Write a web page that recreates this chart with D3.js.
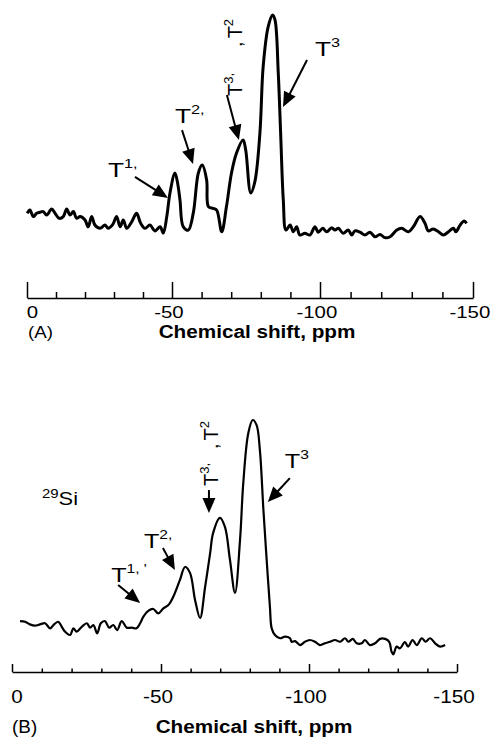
<!DOCTYPE html>
<html>
<head>
<meta charset="utf-8">
<script src="https://cdn.jsdelivr.net/npm/d3@7"></script>
<style>
body { margin: 0; background: #fff; }
text { font-family: "Liberation Sans", Arial, sans-serif; fill: #000; }
</style>
</head>
<body>
<div id="chart"></div>
<script>
// spectrum (A): chemical shift (ppm) and intensity (arb. units)
var shiftA = [-0.1,-1.0,-2.2,-3.3,-4.5,-5.6,-6.8,-8.5,-9.7,-11.1,-12.5,-13.7,-14.8,-16.0,-17.1,-18.3,-20.0,-21.1,-22.3,-23.4,
  -25.2,-26.9,-28.0,-29.6,-30.9,-32.1,-33.2,-34.4,-36.1,-37.8,-39.2,-40.7,-42.4,-44.1,-45.9,-47.0,-48.2,-49.3,-51.0,-52.0,
  -52.7,-53.8,-55.5,-57.2,-58.9,-60.2,-61.7,-62.3,-63.9,-65.1,-66.8,-68.4,-70.1,-71.8,-74.0,-74.9,-76.6,-78.0,-79.7,-80.8,
  -82.5,-84.0,-84.8,-85.9,-86.7,-87.6,-88.5,-89.9,-91.0,-92.1,-93.2,-94.9,-96.6,-98.3,-99.4,-100.9,-102.2,-103.8,-104.9,-106.0,
  -107.6,-109.2,-110.4,-111.4,-113.1,-114.7,-116.3,-118.0,-119.6,-121.2,-122.9,-125.1,-126.7,-128.9,-130.5,-132.7,-134.3,-135.4,-137.0,-138.7,
  -140.3,-142.0,-143.6,-144.4,-145.8,-147.1,-147.9];
var intensityA = [8.6,10.1,7.1,8.6,9.1,9.4,7.8,10.6,8.6,6.3,7.1,10.6,7.8,9.4,6.3,7.1,5.5,2.4,7.1,3.2,
  1.7,3.2,1.7,3.5,7.1,2.4,5.5,1.7,4.7,8.6,4.0,1.7,3.2,0.5,2.4,-0.5,7.1,18.0,27.2,21.7,
  14.7,2.4,0.9,8.8,27.2,30.9,24.0,11.7,10.9,10.1,0.1,11.7,27.2,36.4,42.4,37.8,18.0,23.2,45.6,76.2,
  94.6,100,97.7,73.3,45.6,14.7,0.9,3.2,0.1,2.4,-1.4,-0.6,-1.4,2.4,-0.1,1.7,0.1,2.0,0.9,1.7,
  -0.6,0.9,-1.4,0.5,-0.1,-1.4,-0.1,-2.2,-1.1,-2.6,-2.2,0.9,1.7,0.1,2.4,7.1,4.0,0.5,1.4,0.1,
  -1.4,0.1,1.7,0.1,3.2,5.1,4.0];

// spectrum (B)
var shiftB = [-2.7,-4.4,-6.0,-7.7,-9.4,-11.1,-12.8,-13.9,-15.5,-16.7,-17.8,-19.5,-20.6,-21.7,-23.4,-25.1,-26.2,-27.3,-28.6,-29.8,
  -31.2,-32.6,-34.0,-35.3,-36.8,-38.5,-40.2,-41.8,-43.0,-44.1,-45.7,-47.4,-49.1,-50.8,-52.5,-54.1,-56.4,-58.1,-59.8,-61.5,
  -63.2,-64.9,-66.6,-67.6,-69.9,-71.6,-73.3,-75.0,-76.7,-77.8,-79.5,-81.0,-82.3,-83.4,-84.6,-85.7,-86.8,-87.4,-88.5,
  -90.2,-91.9,-93.6,-94.1,-95.3,-97.0,-98.6,-100.3,-102.0,-103.7,-105.4,-107.1,-108.8,-110.5,-112.2,-113.3,-114.8,-116.1,-117.8,-118.9,
  -120.6,-122.3,-124.0,-125.7,-127.1,-127.9,-128.5,-129.6,-130.7,-132.4,-133.5,-135.0,-136.4,-138.1,-139.4,-140.9,-142.6,-144.3,-146.0];
var intensityB = [8.6,8.3,7.1,6.5,7.1,7.6,5.3,6.8,8.3,6.0,3.8,2.3,5.3,3.8,6.0,7.6,5.6,6.8,3.0,7.6,
  8.6,5.6,6.8,4.5,8.6,5.6,5.6,5.3,7.6,10.6,13.2,14.1,12.1,14.4,15.9,19.5,27.3,33.2,30.5,18.2,
  10.0,24.1,39.5,48.6,55.5,51.4,36.4,21.4,45.5,71.4,94.1,100,97.7,86.4,59.1,36.4,15.0,5.3,2.3,
  0.8,1.5,0.8,-0.8,-0.5,-2.3,-0.8,0,-0.8,-2.3,-1.5,-0.8,0,-0.8,0.8,-0.8,0.5,-1.5,-1.5,0,
  -2.3,-1.5,0.5,0.5,-0.8,-5.3,-6.5,-3.0,-3.8,-1.0,-3.0,0,-2.3,0.8,-0.8,0.8,-1.5,-3.0,-2.3];

var majorTicks = [0, -50, -100, -150];
var minorTicks = [-10, -20, -30, -40, -60, -70, -80, -90, -110, -120, -130, -140];
var axisTitle = "Chemical shift, ppm";
var panelNames = ["(A)", "(B)"];

var width = 496, height = 740;

var svg = d3.select("#chart")
  .append("svg")
  .attr("width", width)
  .attr("height", height);

// the printed figure is stretched sideways, so text is widened too
function wideText(parent, x, y, sx, size) {
  return parent.append("g")
    .attr("transform", "translate(" + x + "," + y + ") scale(" + sx + ",1)")
    .append("text")
    .style("font-size", size + "px");
}

function arrow(g, tip, tail, len, wid) {
  var dx = tip[0] - tail[0], dy = tip[1] - tail[1];
  var d = Math.sqrt(dx * dx + dy * dy);
  var ux = dx / d, uy = dy / d;
  var bx = tip[0] - ux * len, by = tip[1] - uy * len;
  g.append("line")
    .attr("x1", tail[0]).attr("y1", tail[1])
    .attr("x2", bx + ux * 2).attr("y2", by + uy * 2)
    .attr("stroke", "#000").attr("stroke-width", 2);
  g.append("path")
    .attr("d", "M" + tip[0] + "," + tip[1] +
      "L" + (bx - uy * wid / 2) + "," + (by + ux * wid / 2) +
      "L" + (bx + uy * wid / 2) + "," + (by - ux * wid / 2) + "Z")
    .attr("fill", "#000");
}

function drawPanel(p) {
  var g = svg.append("g");

  var x = d3.scaleLinear()
    .domain(majorTicks)
    .range(p.xRange);
  var y = d3.scaleLinear()
    .domain([0, 100])
    .range(p.yRange);

  var pts = p.shift.map(function(s, i) { return {s: s, v: p.intensity[i]}; });

  g.append("path")
    .datum(pts)
    .attr("fill", "none")
    .attr("stroke", "#000")
    .attr("stroke-width", p.lineWidth)
    .attr("stroke-linejoin", "round")
    .attr("d", d3.line()
      .curve(d3.curveCatmullRom.alpha(0.5))
      .x(function(d) { return x(d.s); })
      .y(function(d) { return y(d.v); }));

  // major ticks with labels, pointing up from the baseline
  var ax = g.append("g")
    .attr("transform", "translate(0," + p.axisY + ")")
    .call(d3.axisBottom(x)
      .tickValues(majorTicks)
      .tickSize(-p.majorSize)
      .tickSizeOuter(0)
      .tickPadding(p.tickPad)
      .tickFormat(function(d) { return String(d); }));
  ax.select(".domain").attr("stroke-width", 1.5);
  ax.selectAll(".tick line").attr("stroke-width", 1.5);
  ax.selectAll(".tick text")
    .style("font-family", "'Liberation Sans', Arial, sans-serif")
    .style("font-size", p.tickFont + "px")
    .attr("fill", "#000")
    .attr("transform", "scale(" + p.textStretch + ",1)")
    .attr("x", function(d) { return d === 0 ? 4 : -3; });

  g.append("g")
    .attr("transform", "translate(0," + p.axisY + ")")
    .call(d3.axisBottom(x)
      .tickValues(minorTicks)
      .tickSize(-p.minorSize)
      .tickSizeOuter(0)
      .tickFormat(""))
    .call(function(a) { a.select(".domain").remove(); })
    .selectAll(".tick line").attr("stroke-width", 1.5);

  wideText(g, p.titleX, p.titleY, 1.12, 18.5)
    .attr("text-anchor", "middle")
    .style("font-weight", "bold")
    .text(axisTitle);

  wideText(g, p.nameX, p.titleY, p.nameStretch, p.nameFont)
    .text(p.name);

  // peak labels with arrows
  p.notes.forEach(function(n) {
    var tip = [x(n.at[0]), y(n.at[1])];
    arrow(g, tip, [tip[0] + n.tail[0], tip[1] + n.tail[1]], p.headLen, p.headWid);
    var t;
    if (n.rotated) {
      t = g.append("g")
        .attr("transform", "translate(" + (tip[0] + n.label[0]) + "," + (tip[1] + n.label[1]) + ") rotate(-90)")
        .append("text")
        .style("font-size", "20px");
      t.append("tspan").text("T");
      t.append("tspan").attr("dy", -9).style("font-size", "13px").text("3,");
      t.append("tspan").attr("dy", 9).attr("dx", n.gap).text(",");
      t.append("tspan").attr("dx", 3).text("T");
      t.append("tspan").attr("dy", -9).style("font-size", "13px").text("2");
    } else {
      t = wideText(g, tip[0] + n.label[0], tip[1] + n.label[1], p.labelStretch, 21);
      t.append("tspan").text("T");
      t.append("tspan").attr("dy", -9).style("font-size", "13px").text(n.sup);
    }
  });

  return {x: x, y: y, g: g};
}

drawPanel({
  shift: shiftA, intensity: intensityA,
  xRange: [27, 172, 320, 473], yRange: [232, 15],
  lineWidth: 3,
  axisY: 298, majorSize: 16, minorSize: 6, tickPad: 8, tickFont: 17, textStretch: 1.2,
  titleX: 257, titleY: 338, name: panelNames[0], nameX: 28, nameFont: 17, nameStretch: 1.1,
  headLen: 15, headWid: 13, labelStretch: 1.25,
  notes: [
    {at: [-48.6, 15.7], tail: [-33, -21], label: [-60, -21], sup: "1,"},
    {at: [-57.1, 31.3], tail: [-11, -34], label: [-18, -41], sup: "2,"},
    {at: [-72.6, 42.4], tail: [-12, -45], label: [3, -44], rotated: true, gap: 26},
    {at: [-87.5, 57.6], tail: [24, -47], label: [32, -51], sup: "3"}
  ]
});

var pb = drawPanel({
  shift: shiftB, intensity: intensityB,
  xRange: [12, 161, 309, 457], yRange: [640, 420],
  lineWidth: 2.2,
  axisY: 672, majorSize: 8, minorSize: 3.5, tickPad: 18, tickFont: 18, textStretch: 1.15,
  titleX: 254, titleY: 733, name: panelNames[1], nameX: 12, nameFont: 18, nameStretch: 1.05,
  headLen: 15, headWid: 13, labelStretch: 1.2,
  notes: [
    {at: [-43.0, 16.8], tail: [-22, -18], label: [-29, -21], sup: "1, '"},
    {at: [-54.7, 31.8], tail: [-12, -22], label: [-31, -22], sup: "2,"},
    {at: [-66.2, 57.7], tail: [0, -23], label: [9, -27], rotated: true, gap: 14},
    {at: [-86.1, 62.7], tail: [22, -24], label: [17, -34], sup: "3"}
  ]
});

// nucleus label
var si = wideText(pb.g, 42, 505, 1.15, 19);
si.append("tspan").attr("dy", -7).style("font-size", "13px").text("29");
si.append("tspan").attr("dy", 7).text("Si");
</script>
</body>
</html>
